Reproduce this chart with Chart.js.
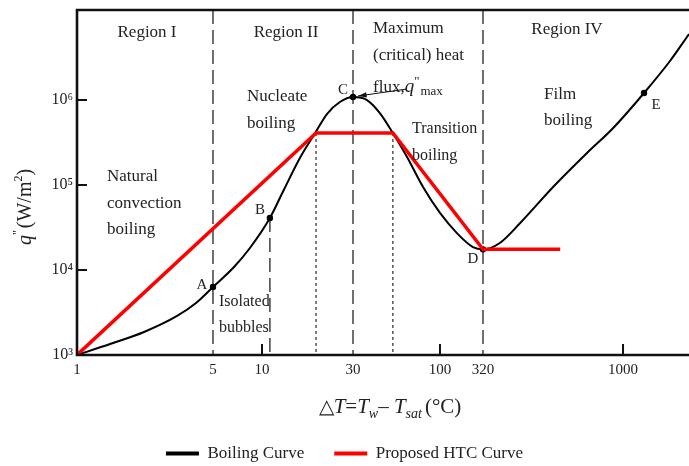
<!DOCTYPE html>
<html>
<head>
<meta charset="utf-8">
<script src="https://cdn.jsdelivr.net/npm/chart.js@4"></script>
<style>
  html, body { margin: 0; padding: 0; background: #fff; }
</style>
</head>
<body>
<canvas id="boiling-chart" width="689" height="466"></canvas>
<script>
// Boiling curve: wall superheat (°C) against heat flux (W/m2)
const boilDT = [1, 1.48, 2.21, 3.27, 4.09, 5, 6.73, 8.43, 11.0, 13.0, 15.8, 19.0, 21.9, 25.6, 30,
    36.4, 43.5, 52.1, 63.4, 79.1, 100, 158, 244, 320, 367, 433, 566, 746, 923, 1184, 1459, 1700];
const boilQ = [1000, 1347, 1865, 2880, 4090, 6300, 10840, 18150, 40900, 87300, 207800, 409000, 684000, 947000, 1084000,
    1000000, 703000, 409000, 213000, 94700, 46900, 27200, 18600, 17500, 20800, 35700, 94700, 238000, 468600, 1210000, 2880000, 5980000];
const boilMarks = ['', '', '', '', '', 'A', '', '', 'B', '', '', '', '', '', 'C',
    '', '', '', '', '', '', '', '', 'D', '', '', '', '', '', 'E', '', ''];

// Proposed HTC curve
const htcDT = [1, 19.2, 52.1, 320, 600];
const htcQ = [1000, 410000, 410000, 17500, 17500];

// guide lines
const regionBounds = [5, 30, 320];
const plateauEdges = [19.2, 52.1];
const bubbleLine = 11.0;

// axes
const xTicks = [1, 5, 10, 30, 100, 320, 1000];
const xTickLabels = ['1', '5', '10', '30', '100', '320', '1000'];
const xMarks = [10, 100, 1000];
const yTicks = [1e3, 1e4, 1e5, 1e6];
const yTickLabels = ['10³', '10⁴', '10⁵', '10⁶'];
const yMarks = [1e4, 1e5, 1e6];
const yMin = 1e3, yMax = 1.146e7;

// the x axis is a schematic log axis: each decade piece gets its own width
const axisBreaks = [1, 5, 10, 30, 100, 320, 1000, 1700];
const axisFrac = [0, 0.2222, 0.3023, 0.4510, 0.5931, 0.6634, 0.8922, 1];

function pos(t) {
    const l = Math.log10(t);
    for (let i = 0; i < axisBreaks.length - 1; i++) {
        const a = Math.log10(axisBreaks[i]), b = Math.log10(axisBreaks[i + 1]);
        if (l <= b || i === axisBreaks.length - 2) {
            return axisFrac[i] + (l - a) / (b - a) * (axisFrac[i + 1] - axisFrac[i]);
        }
    }
}

function pts(xs, ys) {
    return xs.map((t, i) => ({x: pos(t), y: ys[i]}));
}

const SERIF = '"Liberation Serif", "Times New Roman", serif';
const INK = '#222';

function vline(t, top, label) {
    return {
        label: label,
        data: [{x: pos(t), y: top}, {x: pos(t), y: yMin}],
        borderColor: '#333',
        borderWidth: 1.4,
        borderDash: [14, 6],
        pointRadius: 0,
        order: 5
    };
}

let datasets = [
    {
        label: 'Boiling Curve',
        data: pts(boilDT, boilQ),
        borderColor: '#000',
        backgroundColor: '#000',
        borderWidth: 2,
        cubicInterpolationMode: 'monotone',
        pointRadius: ctx => boilMarks[ctx.dataIndex] ? 3.2 : 0,
        pointBackgroundColor: '#000',
        pointBorderWidth: 0,
        order: 1
    },
    {
        label: 'Proposed HTC Curve',
        data: pts(htcDT, htcQ),
        borderColor: '#ff0000',
        backgroundColor: '#ff0000',
        borderWidth: 3.5,
        tension: 0,
        pointRadius: 0,
        order: 0
    }
];
regionBounds.forEach(t => datasets.push(vline(t, yMax, 'region')));
datasets.push(vline(bubbleLine, boilQ[boilDT.indexOf(bubbleLine)], 'bubbles'));
plateauEdges.forEach(t => {
    let d = vline(t, htcQ[1], 'plateau');
    d.borderDash = [3, 3];
    d.borderWidth = 1.1;
    d.borderColor = '#111';
    datasets.push(d);
});

// text placed on the plot
const notes = [
    {t: 'Region I', x: 147, y: 33, align: 'center'},
    {t: 'Region II', x: 286, y: 33, align: 'center'},
    {t: 'Region IV', x: 567, y: 30, align: 'center'},
    {t: 'Maximum', x: 373, y: 29},
    {t: '(critical) heat', x: 373, y: 56},
    {t: 'Nucleate', x: 247, y: 97},
    {t: 'boiling', x: 247, y: 124},
    {t: 'Natural', x: 107, y: 177},
    {t: 'convection', x: 107, y: 204},
    {t: 'boiling', x: 107, y: 230},
    {t: 'Transition', x: 412, y: 129, size: 16},
    {t: 'boiling', x: 412, y: 156, size: 16},
    {t: 'Film', x: 544, y: 95},
    {t: 'boiling', x: 544, y: 121},
    {t: 'Isolated', x: 219, y: 302, size: 16},
    {t: 'bubbles', x: 219, y: 328, size: 16}
];
const markOffsets = {A: [-11, -2], B: [-10, -8], C: [-10, -7], D: [-10, 10], E: [12, 12]};

// draw a run of differently styled pieces along a baseline
function runs(ctx, parts, x, y) {
    let cx = x;
    parts.forEach(p => {
        ctx.font = (p.italic ? 'italic ' : '') + p.size + 'px ' + SERIF;
        ctx.fillText(p.t, cx, y + (p.dy || 0));
        cx += ctx.measureText(p.t).width + (p.gap || 0);
    });
    return cx - x;
}
function runsWidth(ctx, parts) {
    let w = 0;
    parts.forEach(p => {
        ctx.font = (p.italic ? 'italic ' : '') + p.size + 'px ' + SERIF;
        w += ctx.measureText(p.t).width + (p.gap || 0);
    });
    return w;
}

const decor = {
    id: 'boilingDecor',
    afterDatasetsDraw(chart) {
        const {ctx, chartArea: a, scales: {x, y}} = chart;
        ctx.save();

        // frame, open on the right
        ctx.strokeStyle = '#111';
        ctx.lineWidth = 2.6;
        ctx.beginPath();
        ctx.moveTo(a.right + 2, a.top);
        ctx.lineTo(a.left, a.top);
        ctx.lineTo(a.left, a.bottom);
        ctx.lineTo(a.right + 2, a.bottom);
        ctx.stroke();

        // inward tick marks
        ctx.lineWidth = 2;
        ctx.beginPath();
        xMarks.forEach(v => {
            const px = x.getPixelForValue(pos(v));
            ctx.moveTo(px, a.bottom);
            ctx.lineTo(px, a.bottom - 11);
        });
        yMarks.forEach(v => {
            const py = y.getPixelForValue(v);
            ctx.moveTo(a.left, py);
            ctx.lineTo(a.left + 10, py);
        });
        ctx.stroke();

        // notes
        ctx.fillStyle = INK;
        ctx.textBaseline = 'middle';
        notes.forEach(n => {
            ctx.font = (n.size || 17) + 'px ' + SERIF;
            ctx.textAlign = n.align || 'left';
            ctx.fillText(n.t, n.x, n.y);
        });

        // point letters
        ctx.textAlign = 'center';
        ctx.font = '15px ' + SERIF;
        boilMarks.forEach((m, i) => {
            if (!m) return;
            const px = x.getPixelForValue(pos(boilDT[i]));
            const py = y.getPixelForValue(boilQ[i]);
            ctx.fillText(m, px + markOffsets[m][0], py + markOffsets[m][1]);
        });

        // q"max line and its arrow to C
        ctx.textAlign = 'left';
        ctx.textBaseline = 'alphabetic';
        runs(ctx, [
            {t: 'flux,', size: 17},
            {t: 'q', size: 19, italic: true},
            {t: '"', size: 13, dy: -7, gap: 1},
            {t: 'max', size: 13, dy: 3}
        ], 373, 92);

        const iC = boilMarks.indexOf('C');
        const cx = x.getPixelForValue(pos(boilDT[iC])) + 5;
        const cy = y.getPixelForValue(boilQ[iC]) - 1;
        const ex = 407, ey = 89;
        const ang = Math.atan2(cy - ey, cx - ex);
        ctx.strokeStyle = '#111';
        ctx.lineWidth = 1;
        ctx.beginPath();
        ctx.moveTo(ex, ey);
        ctx.lineTo(cx, cy);
        ctx.stroke();
        ctx.fillStyle = '#111';
        ctx.beginPath();
        ctx.moveTo(cx, cy);
        ctx.lineTo(cx - 9 * Math.cos(ang - 0.3), cy - 9 * Math.sin(ang - 0.3));
        ctx.lineTo(cx - 9 * Math.cos(ang + 0.3), cy - 9 * Math.sin(ang + 0.3));
        ctx.closePath();
        ctx.fill();

        // x axis title
        ctx.fillStyle = INK;
        const xt = [
            {t: '△', size: 20},
            {t: 'T', size: 21, italic: true},
            {t: '=', size: 21},
            {t: 'T', size: 21, italic: true},
            {t: 'w', size: 14, italic: true, dy: 5},
            {t: '– ', size: 21},
            {t: 'T', size: 21, italic: true},
            {t: 'sat', size: 14, italic: true, dy: 5, gap: 3},
            {t: '(°C)', size: 21}
        ];
        runs(ctx, xt, 390 - runsWidth(ctx, xt) / 2, 413);

        // y axis title, rotated
        const yt = [
            {t: 'q', size: 20, italic: true},
            {t: '"', size: 12, dy: -10, gap: 2},
            {t: '(W/m', size: 20},
            {t: '2', size: 12, dy: -9},
            {t: ')', size: 20}
        ];
        ctx.translate(31, 207);
        ctx.rotate(-Math.PI / 2);
        runs(ctx, yt, -runsWidth(ctx, yt) / 2, 0);

        ctx.restore();
    }
};

new Chart(document.getElementById('boiling-chart'), {
    type: 'line',
    data: {datasets: datasets},
    options: {
        responsive: false,
        animation: false,
        layout: {padding: {top: 10, left: 0, right: 0, bottom: -6}},
        scales: {
            x: {
                type: 'linear',
                min: 0,
                max: 1,
                grid: {display: false, drawTicks: false},
                border: {display: false},
                afterBuildTicks: scale => { scale.ticks = xTicks.map(v => ({value: pos(v)})); },
                afterFit: scale => { scale.height = 60; },
                ticks: {
                    autoSkip: false,
                    maxRotation: 0,
                    padding: 6,
                    color: INK,
                    font: {family: SERIF, size: 15},
                    callback: (v, i) => xTickLabels[i]
                }
            },
            y: {
                type: 'logarithmic',
                min: yMin,
                max: yMax,
                grid: {display: false, drawTicks: false},
                border: {display: false},
                afterBuildTicks: scale => { scale.ticks = yTicks.map(v => ({value: v})); },
                afterFit: scale => { scale.width = 77; },
                ticks: {
                    autoSkip: false,
                    padding: 4,
                    color: INK,
                    font: {family: SERIF, size: 16, lineHeight: 0.6},
                    callback: (v, i) => yTickLabels[i]
                }
            }
        },
        plugins: {
            tooltip: {enabled: false},
            legend: {
                position: 'bottom',
                labels: {
                    boxWidth: 33,
                    boxHeight: 4,
                    padding: 30,
                    color: INK,
                    font: {family: SERIF, size: 17},
                    filter: item => item.datasetIndex < 2,
                    sort: (a, b) => a.datasetIndex - b.datasetIndex,
                    generateLabels: chart => Chart.defaults.plugins.legend.labels.generateLabels(chart)
                        .map(l => Object.assign(l, {fillStyle: l.strokeStyle, lineWidth: 0, lineDash: []}))
                }
            }
        }
    },
    plugins: [decor]
});
</script>
</body>
</html>
